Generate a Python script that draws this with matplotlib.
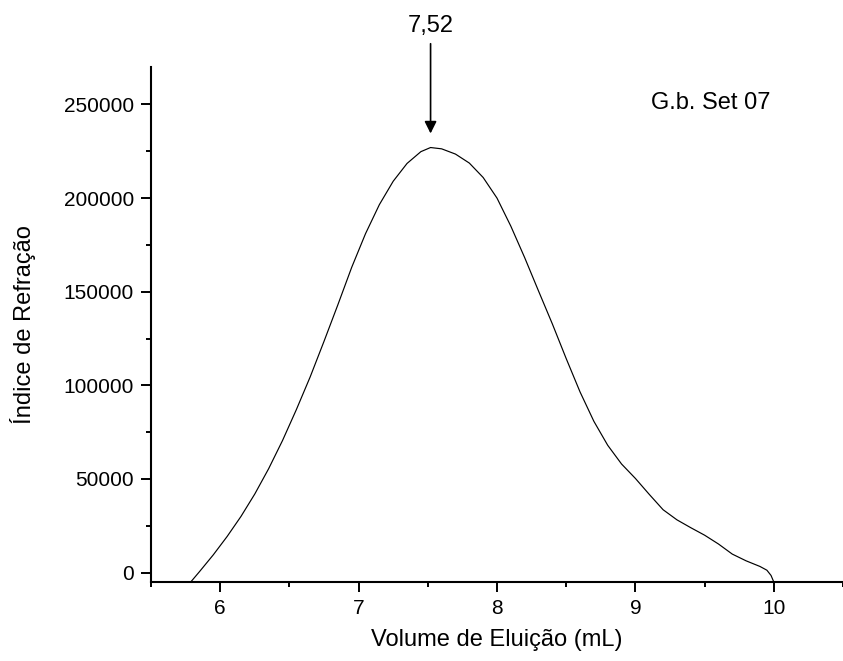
import matplotlib
matplotlib.use("Agg")
import matplotlib.pyplot as plt
from matplotlib.ticker import MultipleLocator

plt.rcParams['font.family'] = ['Liberation Sans', 'DejaVu Sans']

# Data
volume = [5.787, 5.85, 5.95, 6.05, 6.15, 6.25, 6.35, 6.45, 6.55, 6.65, 6.75,
          6.85, 6.95, 7.05, 7.15, 7.25, 7.35, 7.45, 7.52, 7.6, 7.7, 7.8, 7.9,
          8.0, 8.1, 8.2, 8.3, 8.4, 8.5, 8.6, 8.7, 8.8, 8.9, 9.0, 9.1, 9.2, 9.3,
          9.4, 9.5, 9.6, 9.7, 9.8, 9.9, 9.95, 9.98, 10.0]
refraction = [-5000, 500, 9500, 19300, 30000, 42000, 55500, 70500, 87000,
              104500, 123500, 143000, 163000, 181000, 196500, 209000, 218500,
              224800, 227000, 226300, 223500, 218700, 211000, 200000, 185000,
              168200, 150400, 132800, 114300, 96500, 80800, 68000, 58000, 50300,
              41800, 33600, 28200, 24000, 20000, 15300, 9900, 6300, 3300, 1300,
              -1500, -5000]
peak_x = 7.52
peak_label = "7,52"
sample_label = "G.b. Set 07"
x_ticks = [6, 7, 8, 9, 10]
y_ticks = [0, 50000, 100000, 150000, 200000, 250000]

fig = plt.figure(figsize=(8.43, 6.61), dpi=100)
ax = fig.add_axes([151/843, 79/661, (843-151)/843, (582-67)/661])

ax.plot(volume, refraction, color='black', lw=0.85)

ax.set_xlim(5.5, 10.5)
ax.set_ylim(-5000, 270000)
ax.set_xticks(x_ticks)
ax.set_yticks(y_ticks)
ax.xaxis.set_minor_locator(MultipleLocator(0.5))
ax.yaxis.set_minor_locator(MultipleLocator(25000))

for s in ['top', 'right']:
    ax.spines[s].set_visible(False)
for s in ['left', 'bottom']:
    ax.spines[s].set_linewidth(1.5)

ax.tick_params(which='major', direction='out', length=7.2, width=1.4, labelsize=15, pad=5)
ax.tick_params(which='minor', direction='out', length=3.6, width=1.4)

ax.set_xlabel("Volume de Eluição (mL)", fontsize=17, labelpad=8)
ax.set_ylabel("Índice de Refração", fontsize=17, labelpad=20)

ax.annotate(peak_label, xy=(peak_x, 234500), xytext=(peak_x, 292000),
            xycoords='data', textcoords='data', ha='center', va='center',
            fontsize=17, annotation_clip=False,
            arrowprops=dict(arrowstyle='-|>', color='black', lw=1.2,
                            mutation_scale=18, shrinkA=3, shrinkB=0))

ax.text(9.546, 251000, sample_label, fontsize=17, ha='center', va='center')

fig.savefig("out.png", dpi=100)
